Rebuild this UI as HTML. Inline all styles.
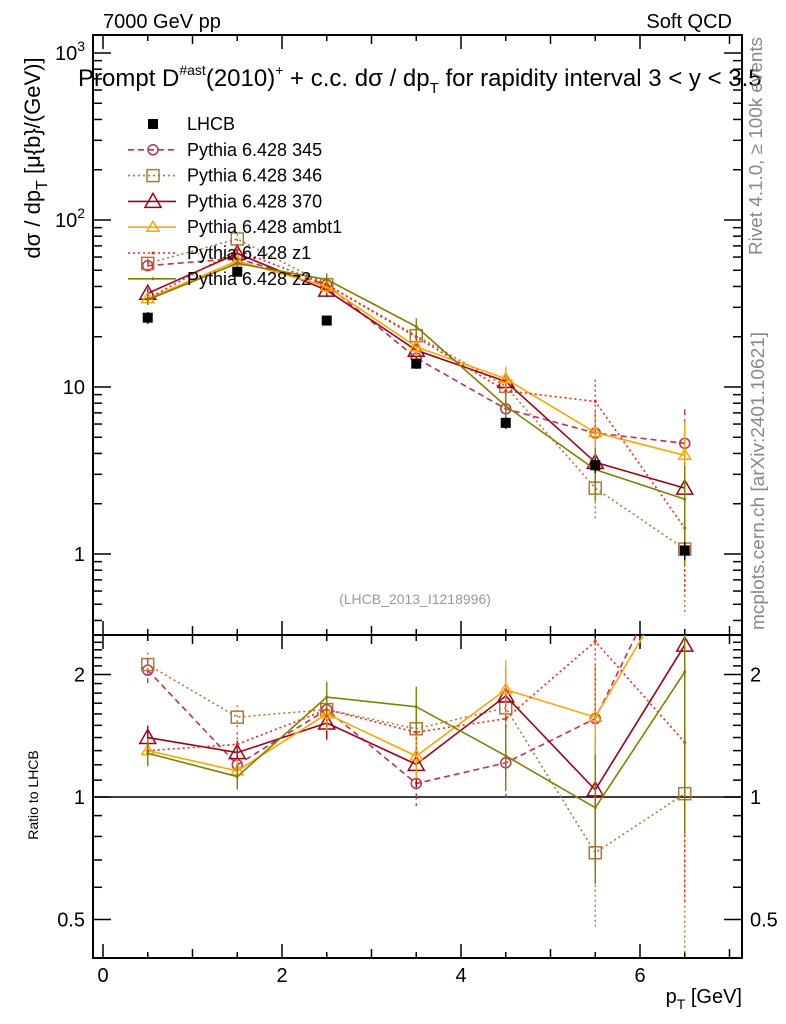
<!DOCTYPE html>
<html><head><meta charset="utf-8"><style>
body{margin:0;background:#fff;}
svg{display:block;font-family:"Liberation Sans",sans-serif;}
</style></head><body>
<svg id="chart" width="786" height="1024" viewBox="0 0 786 1024">
<g id="axes"></g>
<g id="series"></g>
<text x="103" y="28" font-size="20">7000 GeV pp</text>
<text x="732" y="28" font-size="20" text-anchor="end">Soft QCD</text>
<text x="78" y="86" font-size="24">Prompt D<tspan font-size="14" dy="-11">#ast</tspan><tspan dy="11">(2010)</tspan><tspan font-size="14" dy="-11">+</tspan><tspan dy="11"> + c.c.  dσ / dp</tspan><tspan font-size="15" dy="7">T</tspan><tspan dy="-7"> for rapidity interval 3 &lt; y &lt; 3.5</tspan></text>
<text x="415" y="604" font-size="14" fill="#999" text-anchor="middle">(LHCB_2013_I1218996)</text>
<text transform="translate(762,255) rotate(-90)" font-size="18" fill="#888" textLength="218" lengthAdjust="spacingAndGlyphs">Rivet 4.1.0, ≥ 100k events</text>
<text transform="translate(764,630) rotate(-90)" font-size="18" fill="#888" textLength="298" lengthAdjust="spacingAndGlyphs">mcplots.cern.ch [arXiv:2401.10621]</text>
<text transform="translate(40,158) rotate(-90)" font-size="22" text-anchor="middle">dσ / dp<tspan font-size="16" dy="7">T</tspan><tspan dy="-7"> [μ{b}/(GeV)]</tspan></text>
<text transform="translate(38,795) rotate(-90)" font-size="14" text-anchor="middle">Ratio to LHCB</text>
<text x="742" y="1003" font-size="20" text-anchor="end">p<tspan font-size="14" dy="6">T</tspan><tspan dy="-6"> [GeV]</tspan></text>
<g id="legend"></g>
</svg>
<script>
const xCenters=[0.5,1.5,2.5,3.5,4.5,5.5,6.5];
const dataVals=[26,49,25,13.8,6.1,3.4,1.05];
const dataErr=[0.08,0.06,0.06,0.07,0.08,0.1,0.12];
const names=["Pythia 6.428 345","Pythia 6.428 346","Pythia 6.428 370","Pythia 6.428 ambt1","Pythia 6.428 z1","Pythia 6.428 z2"];
const v345=[53.3,58.8,41,14.9,7.4,5.3,4.6];
const v346=[55,77,41,20.3,10.1,2.48,1.07];
const v370=[36.4,63,38,16.6,10.8,3.54,2.48];
const vAmbt1=[33.8,56.8,40,17.4,11.2,5.34,3.9];
const vZ1=[33.8,66,41,19.9,9.5,8.2,1.43];
const vZ2=[33.3,55,44,23,7.7,3.2,2.13];
const mcErr=[0.07,0.07,0.09,0.12,0.18,0.35,0.6];
const xTicks=[0,2,4,6];
const yTicks=[1,10,100,1000];
const yTickBase=["1","10","10","10"];
const yTickExp=["","","2","3"];
const rTicks=[0.5,1,2];

const NS="http://www.w3.org/2000/svg";
const L=93,R=742,T=35,MB=635,RB=958;
const X0=103,XS=89.5;
function xs(v){return X0+v*XS;}
function ym(v){return 554-Math.log10(v)*167;}
function yr(v){return 797-Math.log2(v)*122.5;}
function mk(tag,at,parent){const e=document.createElementNS(NS,tag);for(const k in at)e.setAttribute(k,at[k]);parent.appendChild(e);return e;}
const ax=document.getElementById('axes');
let f1=mk('rect',{x:L,y:T,width:R-L,height:MB-T,fill:'none',stroke:'#000','stroke-width':2},ax);

let f2=mk('rect',{x:L,y:MB,width:R-L,height:RB-MB,fill:'none',stroke:'#000','stroke-width':2},ax);

for(let v=0;v<=7;v+=0.5){const x=xs(v);const big=(v%1===0)?(v%2===0?14:9):6;
 [T,MB].forEach(y0=>{mk('line',{x1:x,x2:x,y1:y0,y2:y0+big,stroke:'#000','stroke-width':1.5},ax);});
 [MB,RB].forEach(y0=>{mk('line',{x1:x,x2:x,y1:y0,y2:y0-big,stroke:'#000','stroke-width':1.5},ax);});}
xTicks.forEach(v=>{const t=mk('text',{x:xs(v),y:982,'font-size':20,'text-anchor':'middle'},ax);t.textContent=v;
 });
for(let d=-1;d<=3;d++){for(let m=1;m<10;m++){const v=m*Math.pow(10,d);const y=ym(v);if(y<T||y>MB)continue;const len=m===1?18:9;
 mk('line',{x1:L,x2:L+len,y1:y,y2:y,stroke:'#000','stroke-width':1.5},ax);mk('line',{x1:R,x2:R-len,y1:y,y2:y,stroke:'#000','stroke-width':1.5},ax);}}
yTicks.forEach((v,i)=>{const t=mk('text',{x:L-8,y:ym(v)+7,'font-size':20,'text-anchor':'end'},ax);
 t.textContent=yTickBase[i];
 if(yTickExp[i]){const s=mk('tspan',{'font-size':14,dy:-9},t);s.textContent=yTickExp[i];}
 });
[0.4,0.5,0.6,0.7,0.8,0.9,1,1.1,1.2,1.3,1.4,1.5,1.6,1.7,1.8,1.9,2,2.1,2.2,2.3,2.4,2.5].forEach(v=>{const y=yr(v);if(y<MB||y>RB)return;
 const len=rTicks.includes(v)?18:9;mk('line',{x1:L,x2:L+len,y1:y,y2:y,stroke:'#000','stroke-width':1.5},ax);mk('line',{x1:R,x2:R-len,y1:y,y2:y,stroke:'#000','stroke-width':1.5},ax);});
rTicks.forEach(v=>{[[L-8,'end'],[R+8,'start']].forEach(([x,a])=>{const t=mk('text',{x:x,y:yr(v)+7,'font-size':20,'text-anchor':a},ax);t.textContent=v;
 });});
const ref=mk('line',{x1:L,x2:R,y1:yr(1),y2:yr(1),stroke:'#000','stroke-width':1.5},ax);


const sg=document.getElementById('series');
const defs=mk('defs',{},sg);
const c1=mk('clipPath',{id:'cm'},defs);mk('rect',{x:L,y:T,width:R-L,height:MB-T},c1);
const c2=mk('clipPath',{id:'cr'},defs);mk('rect',{x:L,y:MB,width:R-L,height:RB-MB},c2);
const gm=mk('g',{'clip-path':'url(#cm)'},sg);const gr=mk('g',{'clip-path':'url(#cr)'},sg);
const series=[
 {vals:v345,col:'#c03050',dash:'6,4',mk:'circle',name:'series-345'},
 {vals:v346,col:'#b07838',dash:'2,3',mk:'square',name:'series-346'},
 {vals:v370,col:'#a00018',dash:'',mk:'tri',name:'series-370'},
 {vals:vAmbt1,col:'#ffa500',dash:'',mk:'tri-s',name:'series-ambt1'},
 {vals:vZ1,col:'#ff2010',dash:'2,3',mk:'dot',name:'series-z1'},
 {vals:vZ2,col:'#808000',dash:'',mk:'dot',name:'series-z2'}];
function marker(g,type,x,y,col){
 if(type==='circle')mk('circle',{cx:x,cy:y,r:5,fill:'none',stroke:col,'stroke-width':1.5},g);
 else if(type==='square')mk('rect',{x:x-6,y:y-6,width:12,height:12,fill:'none',stroke:col,'stroke-width':1.5},g);
 else if(type==='tri')mk('polygon',{points:`${x},${y-8} ${x-8},${y+6} ${x+8},${y+6}`,fill:'none',stroke:col,'stroke-width':1.5},g);
 else if(type==='tri-s')mk('polygon',{points:`${x},${y-6} ${x-6},${y+4} ${x+6},${y+4}`,fill:'none',stroke:col,'stroke-width':1.5},g);
 else mk('circle',{cx:x,cy:y,r:1.5,fill:col},g);}
series.forEach(s=>{
 [[gm,i=>ym(s.vals[i])],[gr,i=>yr(s.vals[i]/dataVals[i])]].forEach(([g,yf],pi)=>{
  const grp=mk('g',{},g);
  const pts=xCenters.map((x,i)=>xs(x)+','+yf(i)).join(' ');
  mk('polyline',{points:pts,fill:'none',stroke:s.col,'stroke-width':1.6,'stroke-dasharray':s.dash},grp);
  xCenters.forEach((x,i)=>{const v=s.vals[i],e=mcErr[i];const sc=pi?dataVals[i]:1;
   const y1=pi?yr((v*(1+e))/sc):ym(v*(1+e));const y2=pi?yr(Math.max(v*(1-e),1e-3)/sc):ym(Math.max(v*(1-e),1e-3));
   mk('line',{x1:xs(x),x2:xs(x),y1:y1,y2:y2,stroke:s.col,'stroke-width':1.4,'stroke-dasharray':s.dash},grp);
   marker(grp,s.mk,xs(x),yf(i),s.col);});
 });});
const dg=mk('g',{},gm);
xCenters.forEach((x,i)=>{const v=dataVals[i];
 mk('line',{x1:xs(x),x2:xs(x),y1:ym(v*(1+dataErr[i])),y2:ym(v*(1-dataErr[i])),stroke:'#000','stroke-width':1.5},dg);
 mk('rect',{x:xs(x)-5,y:ym(v)-5,width:10,height:10,fill:'#000'},dg);});
const lg=document.getElementById('legend');
const le=[{name:'LHCB',col:'#000',dash:'',mk:'data'}].concat(series.map((s,i)=>Object.assign({},s,{name:names[i]})));
le.forEach((s,i)=>{const y=124+i*25.8;const g=mk('g',{},lg);
 
 if(s.mk==='data')mk('rect',{x:148,y:y-5,width:10,height:10,fill:'#000'},g);
 else{mk('line',{x1:128,x2:176,y1:y,y2:y,stroke:s.col,'stroke-width':1.6,'stroke-dasharray':s.dash},g);marker(g,s.mk,153,y,s.col);}
 const t=mk('text',{x:187,y:y+6,'font-size':18},g);t.textContent=s.name;});
</script>
</body></html>
